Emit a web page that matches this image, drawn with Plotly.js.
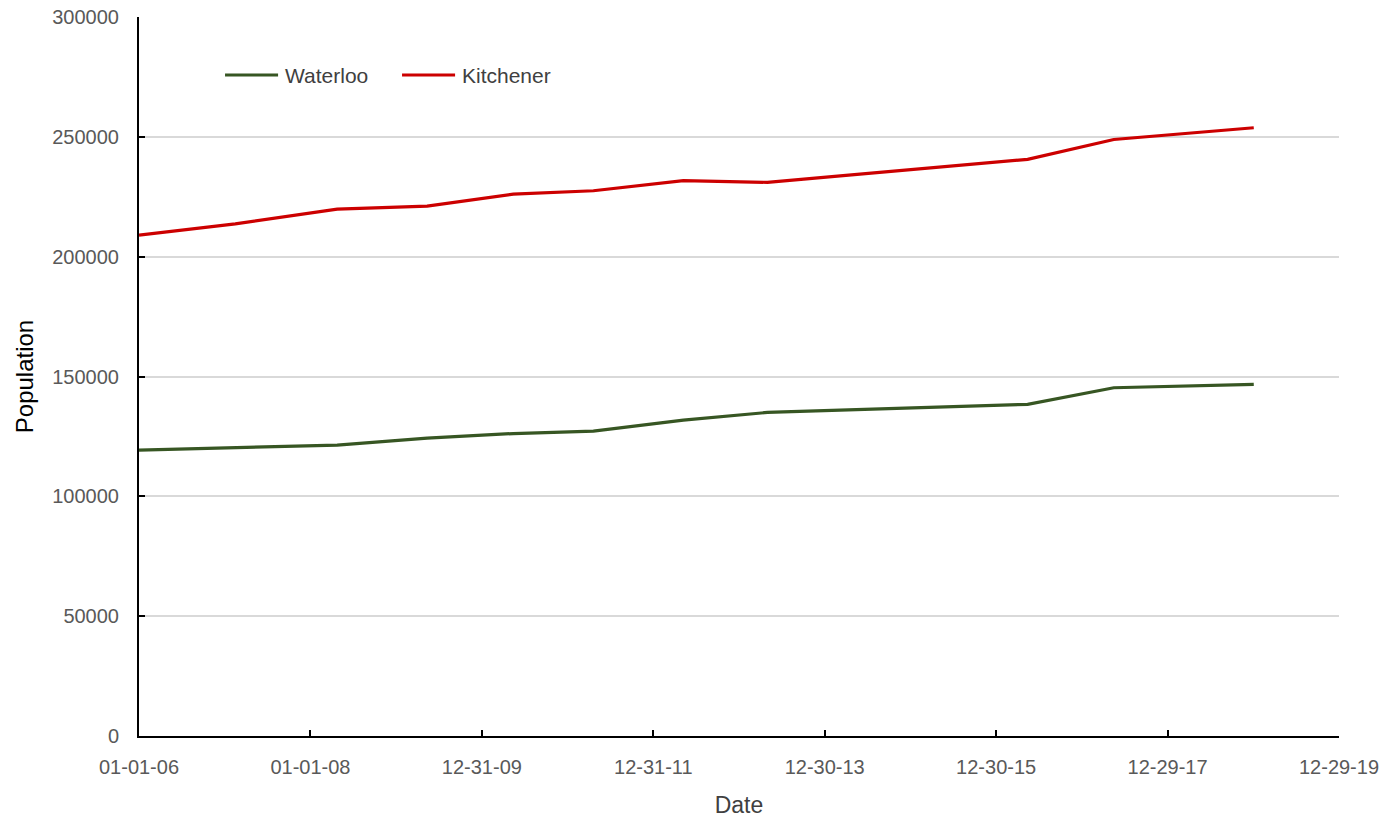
<!DOCTYPE html>
<html>
<head>
<meta charset="utf-8">
<script src="https://cdn.plot.ly/plotly-3.0.1.min.js"></script>
<style>
  html, body { margin: 0; padding: 0; background: #ffffff; }
  #chart { width: 1391px; height: 824px; }
</style>
</head>
<body>
<div id="chart"></div>
<script>
// Annual population estimates for the two cities
const dates = [
  '2006-01-01', '2007-02-15', '2008-04-24', '2009-05-12', '2010-05-14',
  '2011-04-20', '2012-05-07', '2013-04-30', '2014-05-05', '2015-05-08',
  '2016-05-12', '2017-05-14', '2018-12-31'
];
const waterloo = [
  119300, 120200, 121400, 124300, 126200,
  127200, 131800, 135000, 136100, 137200,
  138400, 145300, 146700
];
const kitchener = [
  209000, 213700, 219800, 221100, 226100,
  227500, 231700, 231000, 234200, 237300,
  240600, 248900, 253800
];
const seriesNames = ['Waterloo', 'Kitchener'];
const seriesColors = ['#375623', '#cc0000'];

const font = 'Liberation Sans, Arial, sans-serif';
const DAY = 86400000;

const traces = [waterloo, kitchener].map((vals, i) => ({
  x: dates, y: vals, name: seriesNames[i], type: 'scatter', mode: 'lines',
  line: { color: seriesColors[i], width: 3.2 }
}));

// Key drawn inside the plot area: a short line sample followed by the name
const keyStart = [0.0717, 0.2192];
const keyLen = 0.0442, keyY = 0.9193;
const shapes = [], annotations = [];
seriesNames.forEach((name, i) => {
  shapes.push({
    type: 'line', xref: 'paper', yref: 'paper',
    x0: keyStart[i], x1: keyStart[i] + keyLen, y0: keyY, y1: keyY,
    line: { color: seriesColors[i], width: 3.2 }
  });
  annotations.push({
    xref: 'paper', yref: 'paper', x: keyStart[i] + keyLen + 0.004, y: keyY,
    xanchor: 'left', yanchor: 'middle', showarrow: false, text: name,
    font: { family: font, size: 21, color: '#404040' }
  });
});

const layout = {
  width: 1391, height: 824,
  margin: { l: 139, r: 52, t: 17, b: 88 },
  paper_bgcolor: '#ffffff', plot_bgcolor: '#ffffff',
  font: { family: font, size: 20, color: '#595959' },
  showlegend: false,
  shapes: shapes,
  annotations: annotations,
  xaxis: {
    type: 'date',
    range: ['2006-01-01', '2019-12-29'],
    tick0: '2006-01-01', dtick: 730 * DAY,
    tickformat: '%m-%d-%y',
    showgrid: false, zeroline: false,
    showline: true, linecolor: '#000000', linewidth: 2,
    ticks: 'inside', ticklen: 6, tickcolor: '#000000', tickwidth: 2,
    ticklabelstandoff: 12,
    tickfont: { family: font, size: 20, color: '#595959' },
    title: { text: 'Date', font: { family: font, size: 23, color: '#404040' }, standoff: 20 },
    fixedrange: true
  },
  yaxis: {
    range: [0, 300000], dtick: 50000,
    tickformat: 'd',
    showgrid: true, gridcolor: '#d9d9d9', gridwidth: 2,
    zeroline: false,
    showline: true, linecolor: '#000000', linewidth: 2,
    ticks: 'inside', ticklen: 6, tickcolor: '#000000', tickwidth: 2,
    ticklabelstandoff: 14,
    tickfont: { family: font, size: 20, color: '#595959' },
    title: { text: 'Population', font: { family: font, size: 24, color: '#000000' }, standoff: 12 },
    fixedrange: true
  }
};

Plotly.newPlot('chart', traces, layout, { displayModeBar: false, staticPlot: true });
</script>
</body>
</html>
